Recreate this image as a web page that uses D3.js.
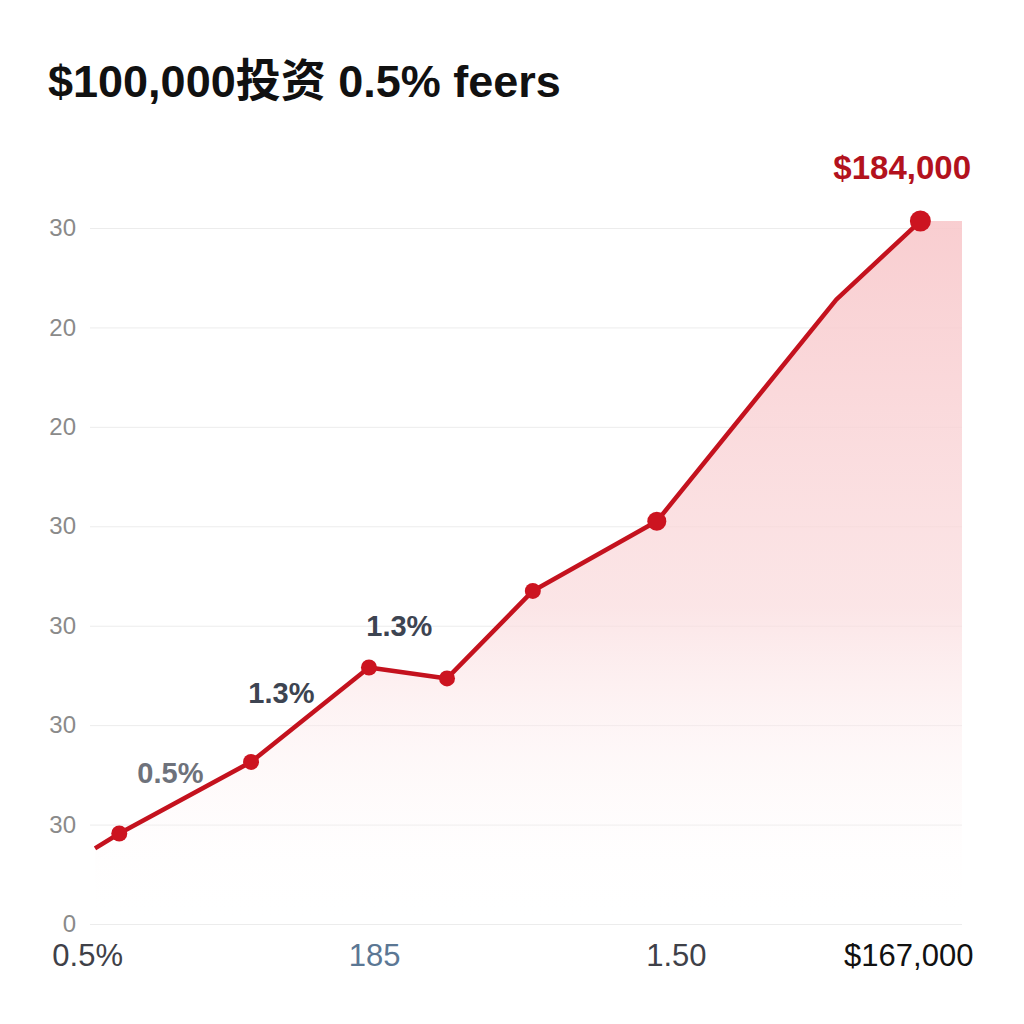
<!DOCTYPE html>
<html>
<head>
<meta charset="utf-8">
<script src="https://cdn.jsdelivr.net/npm/d3@7"></script>
<style>
  body { margin: 0; background: #fff; }
  text { font-family: "Liberation Sans", Arial, "Noto Sans CJK SC", sans-serif; }
</style>
</head>
<body>
<div id="chart"></div>
<script>
// chart values
var titleText = "$100,000投资 0.5% feers";

// y gridline labels, bottom to top
var yTickLabels = ["0", "30", "30", "30", "30", "20", "20", "30"];

// x axis labels and where they sit
var xTickLabels = ["0.5%", "185", "1.50", "$167,000"];
var xTickValues = [-0.09, 3.22, 6.70, 9.38];

// line series
var xValues = [0, 0.28, 1.80, 3.16, 4.06, 5.05, 6.48, 8.55, 9.52];
var yValues = [0.76, 0.91, 1.63, 2.58, 2.47, 3.35, 4.05, 6.28, 7.07];
var fillEndX = 10;

// point annotations
var noteTexts = ["0.5%", "1.3%", "1.3%", "$184,000"];
var noteX = [0.87, 2.15, 3.51, 9.31];
var noteY = [1.52, 2.32, 3.00, 7.61];

var width = 1024;
var height = 1024;

var svg = d3.select("#chart")
    .append("svg")
    .attr("width", width)
    .attr("height", height);

var x = d3.scaleLinear().domain([0, 10]).range([95, 962]);
var y = d3.scaleLinear().domain([0, 7]).range([924, 228]);

// title
svg.append("text")
    .attr("x", 48)
    .attr("y", 97)
    .style("font-size", "45px")
    .style("font-weight", "bold")
    .style("fill", "#111")
    .text(titleText);

// gradient for the area
var defs = svg.append("defs");
var grad = defs.append("linearGradient")
    .attr("id", "areaFill")
    .attr("gradientUnits", "userSpaceOnUse")
    .attr("x1", 0).attr("y1", y(7.1))
    .attr("x2", 0).attr("y2", y(0));
grad.append("stop").attr("offset", "0%").attr("stop-color", "#f8c8cb").attr("stop-opacity", 0.9);
grad.append("stop").attr("offset", "55%").attr("stop-color", "#fadadc").attr("stop-opacity", 0.7);
grad.append("stop").attr("offset", "100%").attr("stop-color", "#ffffff").attr("stop-opacity", 0);

// y axis gridlines
var yAxis = d3.axisLeft(y)
    .tickValues(d3.range(yTickLabels.length))
    .tickFormat(function(d, i) { return yTickLabels[i]; })
    .tickSize(-(962 - 90))
    .tickPadding(14);

var gy = svg.append("g")
    .attr("transform", "translate(90,0)")
    .call(yAxis);
gy.select(".domain").remove();
gy.selectAll(".tick line").style("stroke", "#ececec").style("stroke-width", 1);
gy.selectAll(".tick text")
    .style("font-size", "24px")
    .style("fill", "#8a8a8a")
    .attr("x", -14);

// area + line
var areaData = xValues.map(function(d, i) { return [d, yValues[i]]; });
areaData.push([fillEndX, yValues[yValues.length - 1]]);

var area = d3.area()
    .x(function(d) { return x(d[0]); })
    .y0(y(0))
    .y1(function(d) { return y(d[1]); });

svg.append("path")
    .datum(areaData)
    .attr("d", area)
    .style("fill", "url(#areaFill)");

var line = d3.line()
    .x(function(d, i) { return x(xValues[i]); })
    .y(function(d) { return y(d); });

svg.append("path")
    .datum(yValues)
    .attr("d", line)
    .style("fill", "none")
    .style("stroke", "#c4121e")
    .style("stroke-width", 4.5)
    .style("stroke-linejoin", "round");

// markers (first segment start and the bend near the top have none)
var markerR = function(i) {
    if (i === 0 || i === 7) return 0;
    if (i === xValues.length - 1) return 10.5;
    if (i === 6) return 9.5;
    return 8;
};

svg.selectAll(".dot")
    .data(yValues)
    .enter().append("circle")
    .attr("class", "dot")
    .attr("cx", function(d, i) { return x(xValues[i]); })
    .attr("cy", function(d) { return y(d); })
    .attr("r", function(d, i) { return markerR(i); })
    .style("fill", "#cc1420");

// x labels
var xAxis = d3.axisBottom(x)
    .tickValues(xTickValues)
    .tickFormat(function(d, i) { return xTickLabels[i]; })
    .tickSize(0)
    .tickPadding(20);

var gx = svg.append("g")
    .attr("transform", "translate(0,924)")
    .call(xAxis);
gx.select(".domain").remove();
var xColors = ["#3f4148", "#5b7794", "#3f4148", "#111111"];
gx.selectAll(".tick text")
    .style("font-size", "31px")
    .style("fill", function(d, i) { return xColors[i]; });

// annotations
var noteColors = ["#6e727b", "#3d4451", "#3d4451", "#b3121d"];
var noteSizes = [29, 29, 29, 33];
svg.selectAll(".note")
    .data(noteTexts)
    .enter().append("text")
    .attr("class", "note")
    .attr("x", function(d, i) { return x(noteX[i]); })
    .attr("y", function(d, i) { return y(noteY[i]); })
    .attr("text-anchor", "middle")
    .attr("dominant-baseline", "central")
    .style("font-size", function(d, i) { return noteSizes[i] + "px"; })
    .style("font-weight", function(d, i) { return i === 3 ? "bold" : "600"; })
    .style("fill", function(d, i) { return noteColors[i]; })
    .text(function(d) { return d; });
</script>
</body>
</html>
